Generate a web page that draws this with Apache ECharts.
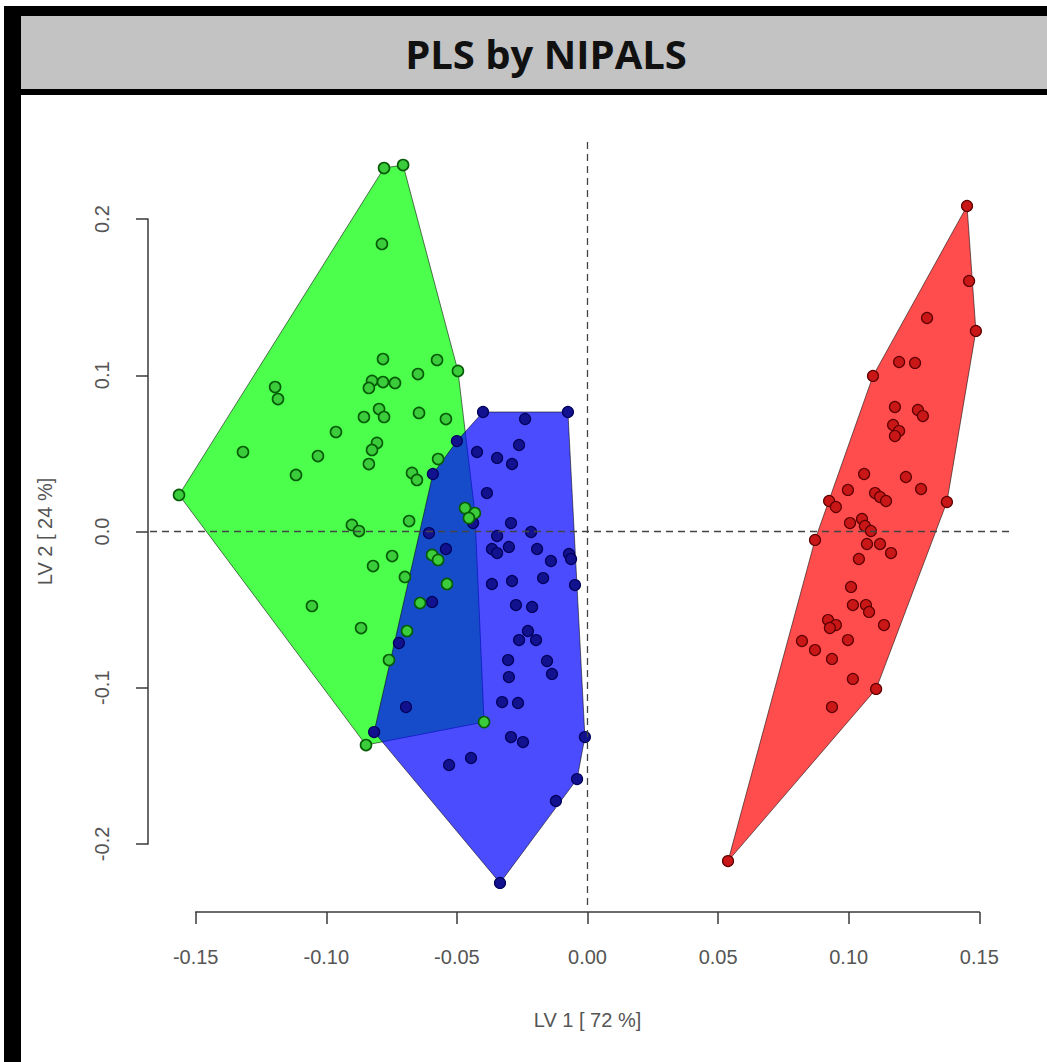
<!DOCTYPE html>
<html>
<head>
<meta charset="utf-8">
<script src="https://cdn.jsdelivr.net/npm/echarts@6/dist/echarts.min.js"></script>
<style>html,body{margin:0;padding:0;background:#fff}#c{width:1047px;height:1062px}</style>
</head>
<body>
<div id="c"></div>
<script>
// ---- text ----
const chartTitle = 'PLS by NIPALS';
const xAxisName = 'LV 1 [ 72 %]';
const yAxisName = 'LV 2 [ 24 %]';

// ---- tick labels ----
const xTickMin = -0.15, xTickMax = 0.15, xTickStep = 0.05;
const yTickMin = -0.2, yTickMax = 0.2, yTickStep = 0.1;

// ---- series values [LV1, LV2] ----
const groupGreen = [
  [-0.0779, 0.2327], [-0.0706, 0.2346], [-0.0787, 0.1841], [-0.0783, 0.1104],
  [-0.0576, 0.1098], [-0.0496, 0.1028], [-0.0649, 0.1008], [-0.0825, 0.0964],
  [-0.0783, 0.0957], [-0.0737, 0.0951], [-0.0837, 0.0919], [-0.1196, 0.0925],
  [-0.1185, 0.0848], [-0.0798, 0.0784], [-0.0779, 0.0733], [-0.0856, 0.0733],
  [-0.0645, 0.0759], [-0.0542, 0.0720], [-0.0963, 0.0637], [-0.0806, 0.0567],
  [-0.0825, 0.0522], [-0.1032, 0.0483], [-0.0837, 0.0432], [-0.1319, 0.0509],
  [-0.1116, 0.0362], [-0.0672, 0.0375], [-0.0572, 0.0464], [-0.0653, 0.0330],
  [-0.1564, 0.0234], [-0.0902, 0.0042], [-0.0875, 0.0003], [-0.0683, 0.0067],
  [-0.0748, -0.0157], [-0.0821, -0.0221], [-0.0699, -0.0291], [-0.0595, -0.0150],
  [-0.0572, -0.0182], [-0.1055, -0.0477], [-0.0641, -0.0458], [-0.0867, -0.0618],
  [-0.0691, -0.0637], [-0.0760, -0.0823], [-0.0848, -0.1367], [-0.0469, 0.0150],
  [-0.0431, 0.0118], [-0.0454, 0.0086], [-0.0538, -0.0336], [-0.0396, -0.1220]
];
const groupBlue = [
  [-0.0400, 0.0765], [-0.0075, 0.0765], [-0.0239, 0.0720], [-0.0500, 0.0579],
  [-0.0262, 0.0554], [-0.0423, 0.0509], [-0.0346, 0.0471], [-0.0289, 0.0432],
  [-0.0592, 0.0368], [-0.0385, 0.0246], [-0.0438, 0.0054], [-0.0293, 0.0054],
  [-0.0607, -0.0010], [-0.0346, -0.0029], [-0.0216, -0.0003], [-0.0542, -0.0112],
  [-0.0366, -0.0112], [-0.0346, -0.0138], [-0.0301, -0.0099], [-0.0193, -0.0112],
  [-0.0140, -0.0189], [-0.0071, -0.0144], [-0.0063, -0.0176], [-0.0366, -0.0336],
  [-0.0289, -0.0317], [-0.0170, -0.0298], [-0.0048, -0.0343], [-0.0595, -0.0451],
  [-0.0722, -0.0714], [-0.0695, -0.1124], [-0.0817, -0.1284], [-0.0274, -0.0471],
  [-0.0212, -0.0483], [-0.0228, -0.0637], [-0.0262, -0.0695], [-0.0197, -0.0695],
  [-0.0304, -0.0823], [-0.0155, -0.0829], [-0.0136, -0.0912], [-0.0301, -0.0932],
  [-0.0327, -0.1092], [-0.0266, -0.1098], [-0.0293, -0.1316], [-0.0247, -0.1348],
  [-0.0010, -0.1316], [-0.0530, -0.1495], [-0.0446, -0.1450], [-0.0040, -0.1585],
  [-0.0121, -0.1725], [-0.0335, -0.2250]
];
const groupRed = [
  [0.1453, 0.2084], [0.1461, 0.1604], [0.1487, 0.1284], [0.1300, 0.1367],
  [0.1193, 0.1085], [0.1254, 0.1079], [0.1093, 0.0996], [0.1177, 0.0797],
  [0.1265, 0.0778], [0.1284, 0.0739], [0.1170, 0.0682], [0.1193, 0.0643],
  [0.1177, 0.0611], [0.1059, 0.0368], [0.1219, 0.0349], [0.1277, 0.0272],
  [0.0997, 0.0266], [0.1101, 0.0246], [0.1120, 0.0221], [0.1143, 0.0195],
  [0.1376, 0.0189], [0.0925, 0.0195], [0.0951, 0.0157], [0.1005, 0.0054],
  [0.1051, 0.0080], [0.1062, 0.0035], [0.1085, 0.0003], [0.0871, -0.0054],
  [0.1070, -0.0080], [0.1120, -0.0080], [0.1162, -0.0138], [0.1039, -0.0176],
  [0.1009, -0.0355], [0.1016, -0.0471], [0.1066, -0.0471], [0.1078, -0.0515],
  [0.0921, -0.0567], [0.0951, -0.0599], [0.0928, -0.0618], [0.1135, -0.0599],
  [0.0821, -0.0701], [0.0871, -0.0759], [0.0997, -0.0695], [0.0936, -0.0816],
  [0.1016, -0.0944], [0.1105, -0.1008], [0.0936, -0.1124], [0.0538, -0.2110]
];

// ---- convex hull (Andrew monotone chain) ----
function convexHull(pts) {
  const p = pts.slice().sort((a, b) => a[0] - b[0] || a[1] - b[1]);
  const cross = (o, a, b) => (a[0] - o[0]) * (b[1] - o[1]) - (a[1] - o[1]) * (b[0] - o[0]);
  const lo = [], up = [];
  for (const q of p) { while (lo.length >= 2 && cross(lo[lo.length - 2], lo[lo.length - 1], q) <= 0) lo.pop(); lo.push(q); }
  for (let i = p.length - 1; i >= 0; i--) { const q = p[i]; while (up.length >= 2 && cross(up[up.length - 2], up[up.length - 1], q) <= 0) up.pop(); up.push(q); }
  lo.pop(); up.pop();
  return lo.concat(up);
}
function hullSeries(name, pts, fill) {
  const h = convexHull(pts);
  return {
    type: 'custom', name: name, xAxisIndex: 0, yAxisIndex: 0, z: 2, silent: true,
    data: [h[0]],
    renderItem: function (params, api) {
      return {
        type: 'polygon',
        shape: { points: h.map(p => api.coord(p)) },
        style: { fill: fill, stroke: 'rgba(0,0,0,0.55)', lineWidth: 1 }
      };
    }
  };
}

const chart = echarts.init(document.getElementById('c'), null, { renderer: 'svg' });

const axisColor = '#3a3a3a';
const labelColor = '#555555';
const fontFam = '"Liberation Sans", Arial, sans-serif';

chart.setOption({
  animation: false,
  backgroundColor: '#ffffff',
  graphic: [
    { type: 'rect', z: -10, shape: { x: 4, y: 6, width: 1043, height: 89 }, style: { fill: '#000' } },
    { type: 'rect', z: -9, shape: { x: 21, y: 16, width: 1026, height: 73 }, style: { fill: '#c3c3c3' } },
    { type: 'rect', z: -10, shape: { x: 4, y: 6, width: 17, height: 1056 }, style: { fill: '#000' } },
    { type: 'text', z: 10, x: 546, y: 53,
      style: { text: chartTitle, fontFamily: '"Open Sans", sans-serif', fontWeight: 'bold', fontSize: 40,
               fill: '#111', align: 'center', verticalAlign: 'middle' } }
  ],
  grid: [
    { left: 150, right: 35, top: 140, bottom: 157 },
    { left: 195.7, right: 67.7, top: 219.1, bottom: 218.1 }
  ],
  xAxis: [
    { type: 'value', gridIndex: 0, min: -0.1675, max: 0.16252, show: false },
    { type: 'value', gridIndex: 1, min: xTickMin, max: xTickMax, interval: xTickStep, offset: 68,
      splitLine: { show: false },
      axisLine: { onZero: false, lineStyle: { color: axisColor, width: 1.5 } },
      axisTick: { length: 12, lineStyle: { color: axisColor, width: 1.5 } },
      axisLabel: { margin: 35, fontSize: 20, color: labelColor, fontFamily: fontFam,
                   showMinLabel: true, showMaxLabel: true,
                   formatter: v => v.toFixed(2) },
      name: xAxisName, nameLocation: 'middle', nameGap: 98,
      nameTextStyle: { fontSize: 20, color: labelColor, fontFamily: fontFam } }
  ],
  yAxis: [
    { type: 'value', gridIndex: 0, min: -0.23912, max: 0.25064, show: false },
    { type: 'value', gridIndex: 1, min: yTickMin, max: yTickMax, interval: yTickStep, offset: 47.7,
      splitLine: { show: false },
      axisLine: { onZero: false, lineStyle: { color: axisColor, width: 1.5 } },
      axisTick: { length: 12, lineStyle: { color: axisColor, width: 1.5 } },
      axisLabel: { margin: 36, rotate: 90, fontSize: 20, color: labelColor, fontFamily: fontFam,
                   showMinLabel: true, showMaxLabel: true,
                   formatter: v => v.toFixed(1) },
      name: yAxisName, nameLocation: 'middle', nameGap: 93,
      nameTextStyle: { fontSize: 20, color: labelColor, fontFamily: fontFam } }
  ],
  series: [
    hullSeries('hull green', groupGreen, 'rgba(0,255,0,0.7)'),
    hullSeries('hull blue', groupBlue, 'rgba(0,0,255,0.7)'),
    hullSeries('hull red', groupRed, 'rgba(255,0,0,0.7)'),
    { type: 'scatter', name: 'blue', xAxisIndex: 0, yAxisIndex: 0, z: 3, data: groupBlue,
      symbol: 'circle', symbolSize: 11,
      itemStyle: { color: '#12128f', borderColor: '#00005c', borderWidth: 1.2, opacity: 1 },
      markLine: {
        silent: true, symbol: 'none', label: { show: false },
        lineStyle: { color: '#444', type: [7, 5], width: 1.3 },
        data: [{ xAxis: 0 }, { yAxis: 0 }]
      } },
    { type: 'scatter', name: 'red', xAxisIndex: 0, yAxisIndex: 0, z: 3, data: groupRed,
      symbol: 'circle', symbolSize: 11,
      itemStyle: { color: '#c91616', borderColor: '#5c0000', borderWidth: 1.2, opacity: 1 } },
    { type: 'scatter', name: 'green', xAxisIndex: 0, yAxisIndex: 0, z: 3, data: groupGreen,
      symbol: 'circle', symbolSize: 11,
      itemStyle: { color: '#3acc3a', borderColor: '#065c06', borderWidth: 1.6, opacity: 1 } }
  ]
});
</script>
</body>
</html>
